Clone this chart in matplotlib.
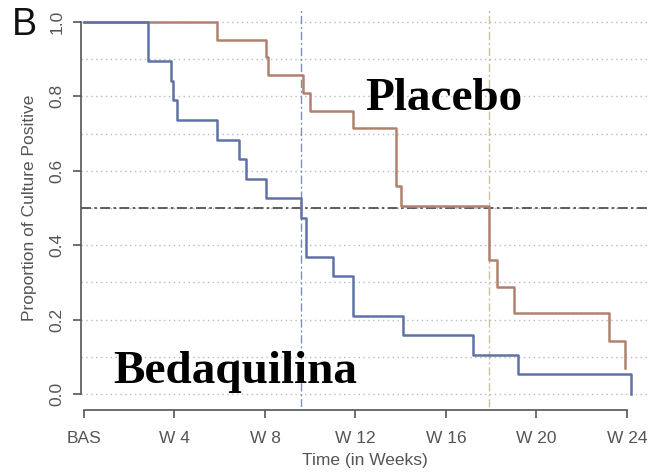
import numpy as np
import matplotlib
matplotlib.use("Agg")
from matplotlib import pyplot as plt

# Kaplan-Meier style step data (weeks, proportion)
beda_weeks = [0, 2.83, 3.86, 3.95, 4.1, 5.87, 6.84, 7.15, 8.05, 9.6, 9.82, 11.0, 11.9, 14.1, 17.2, 19.2, 24.2]
beda_prop = [1.0, 0.895, 0.842, 0.789, 0.737, 0.684, 0.632, 0.579, 0.526, 0.474, 0.368, 0.316, 0.211, 0.158, 0.105, 0.053, 0.0]

plac_weeks = [0, 5.87, 8.05, 8.15, 9.7, 9.99, 11.9, 13.8, 14.0, 17.9, 18.25, 19.0, 23.2, 23.9]
plac_prop = [1.0, 0.952, 0.905, 0.857, 0.81, 0.762, 0.714, 0.56, 0.505, 0.36, 0.288, 0.217, 0.142, 0.069]

median_beda = 9.6
median_plac = 17.9

xticks = [0, 4, 8, 12, 16, 20, 24]
xticklabels = ["BAS", "W 4", "W 8", "W 12", "W 16", "W 20", "W 24"]
yticks = [0.0, 0.2, 0.4, 0.6, 0.8, 1.0]
grid_levels = [0.0, 0.1, 0.2, 0.3, 0.4, 0.5, 0.6, 0.7, 0.8, 0.9, 1.0]

W, H = 649, 476
fig = plt.figure(figsize=(W / 100, H / 100), dpi=100)
plt.rcParams['font.family'] = ['Liberation Sans', 'DejaVu Sans']

# pixel mapping: week 0 at x=84, 22.62 px/week; y=0 at 394, 372 px per unit
px_week = 22.62
px_unit = 372.0
left_px, right_px, top_px, bot_px = 81, 649, 8, 407
ax = fig.add_axes([left_px / W, 1 - bot_px / H, (right_px - left_px) / W, (bot_px - top_px) / H])
ax.set_xlim((left_px - 84) / px_week, (right_px - 84) / px_week)
ax.set_ylim(-(bot_px - 394) / px_unit, 1 + (394 - top_px - px_unit) / px_unit)

grey = "#555555"
for g in grid_levels:
    ax.axhline(g, color="#bbbbbb", lw=1.0, ls=(0, (1, 2.5)), zorder=1)

ax.axhline(0.5, color="#444444", lw=1.2, ls=(0, (6, 2, 1.5, 2)), zorder=2)
ax.axvline(median_beda, color="#7f8fb5", lw=1.0, ls=(0, (6, 2, 1.5, 2)), zorder=2)
ax.axvline(median_plac, color="#cdbf9f", lw=1.0, ls=(0, (6, 2, 1.5, 2)), zorder=2)

ax.step(plac_weeks, plac_prop, where="post", color="#b0826e", lw=1.8, zorder=3)
ax.step(beda_weeks, beda_prop, where="post", color="#5f72a6", lw=1.8, zorder=4)

for s in ["top", "right"]:
    ax.spines[s].set_visible(False)
ax.spines["left"].set_bounds(0, 1)
ax.spines["bottom"].set_bounds(0, 24)
ax.spines["bottom"].set_position(("outward", 2.5))
for s in ["left", "bottom"]:
    ax.spines[s].set_color(grey)
    ax.spines[s].set_linewidth(1.2)

ax.set_xticks(xticks)
ax.set_xticklabels(xticklabels)
ax.set_yticks(yticks)
ax.set_yticklabels([f"{v:.1f}" for v in yticks], rotation=90, va="center")
ax.tick_params(axis="both", colors=grey, labelcolor=grey, length=6, width=1.2, labelsize=12.5)
ax.tick_params(axis="x", pad=9)
ax.tick_params(axis="y", pad=6)

ax.set_xlabel("Time (in Weeks)", color=grey, fontsize=12.5, labelpad=5)
ax.set_ylabel("Proportion of Culture Positive", color=grey, fontsize=12.5, labelpad=9)

ax.text(12.42, 0.763, "Placebo", family=["Liberation Serif", "DejaVu Serif"], weight="bold",
        fontsize=34, va="baseline", ha="left", zorder=5)
ax.text(1.28, 0.03, "Bedaquilina", family=["Liberation Serif", "DejaVu Serif"], weight="bold",
        fontsize=34, va="baseline", ha="left", zorder=5)

fig.text(12 / W, 1 - 35 / H, "B", fontsize=27, color="#111111", va="baseline", ha="left")

fig.savefig("out.png", dpi=100)
